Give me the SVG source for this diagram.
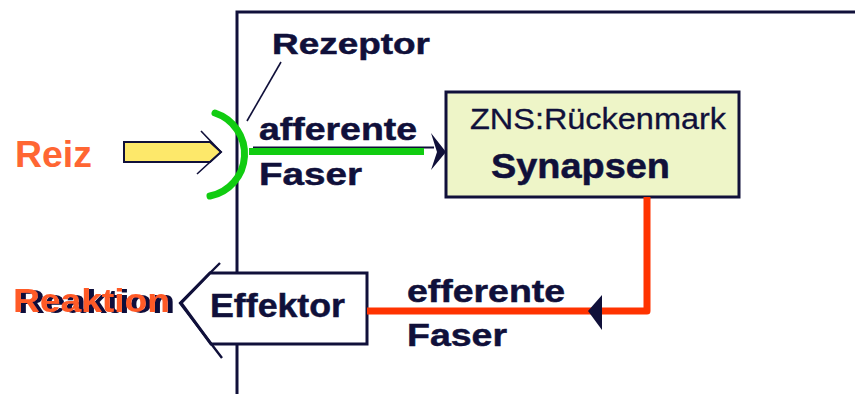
<svg xmlns="http://www.w3.org/2000/svg" width="855" height="394" viewBox="0 0 855 394">
  <style>
    .lbl { font-family: "Liberation Sans", Arial, sans-serif; font-weight: bold; fill: #10103a; stroke: #10103a; stroke-width: 0.5; }
    .org { font-family: "Liberation Sans", Arial, sans-serif; font-weight: bold; }
    .frame { fill: none; stroke: #10103a; stroke-width: 3; }
    .thin { fill: none; stroke: #10103a; stroke-width: 1.6; }
    .head { fill: #10103a; }
  </style>
  <defs>
    <!-- dark offset copy behind the orange lettering -->
    <filter id="darkShadow" x="-5%" y="-20%" width="115%" height="150%">
      <feOffset in="SourceAlpha" dx="5" dy="1" result="off"/>
      <feFlood flood-color="#10103a"/>
      <feComposite in2="off" operator="in" result="shadow"/>
      <feMerge>
        <feMergeNode in="shadow"/>
        <feMergeNode in="SourceGraphic"/>
      </feMerge>
    </filter>
  </defs>

  <!-- body boundary -->
  <g id="frame">
    <path class="frame" d="M855,12 H237 V394"/>
  </g>

  <!-- stimulus arrow -->
  <g id="reiz">
    <text class="org" x="15" y="167" font-size="37" fill="#ff6633" textLength="77" lengthAdjust="spacingAndGlyphs">Reiz</text>
    <path d="M124,142 H210 L221,152 L210,162 H124 Z" fill="#fde86a" stroke="#10103a" stroke-width="2"/>
    <polyline class="thin" points="201,131 221,152 197,174"/>
  </g>

  <!-- receptor -->
  <g id="rezeptor">
    <text class="lbl" x="272" y="54" font-size="30" textLength="158" lengthAdjust="spacingAndGlyphs">Rezeptor</text>
    <line class="thin" x1="281" y1="62" x2="247" y2="121"/>
    <path d="M215,113 A43,43 0 0,1 210,196" fill="none" stroke="#11cc11" stroke-width="7" stroke-linecap="round"/>
  </g>

  <!-- spinal cord -->
  <g id="zns">
    <rect x="446" y="92" width="293" height="105" fill="#eef5c8" stroke="#10103a" stroke-width="3"/>
    <text x="470" y="129" font-family="Liberation Sans, Arial, sans-serif" font-size="29" fill="#10103a" stroke="#10103a" stroke-width="0.3" textLength="256" lengthAdjust="spacingAndGlyphs">ZNS:Rückenmark</text>
    <text class="lbl" x="491" y="178" font-size="35" textLength="179" lengthAdjust="spacingAndGlyphs">Synapsen</text>
  </g>

  <!-- effector -->
  <g id="effektor">
    <path d="M367,273 H210 L181,303 L211,344 H367 Z" fill="#ffffff" stroke="#10103a" stroke-width="3" stroke-linejoin="miter"/>
    <polyline points="220,263 180,303 222,358" fill="none" stroke="#10103a" stroke-width="2.4"/>
    <text class="lbl" x="210" y="317" font-size="33" textLength="135" lengthAdjust="spacingAndGlyphs">Effektor</text>
  </g>

  <!-- reaction -->
  <g id="reaktion">
    <text class="org" x="13" y="312" font-size="33" fill="#ff5a28" filter="url(#darkShadow)" textLength="157" lengthAdjust="spacingAndGlyphs">Reaktion</text>
  </g>

  <!-- nerve fibres -->
  <g id="connectors">
    <line x1="253" y1="147.5" x2="434" y2="147.5" stroke="#10103a" stroke-width="2"/>
    <line x1="249" y1="151.5" x2="424" y2="151.5" stroke="#11cc11" stroke-width="7"/>
    <path class="head" d="M446,152 L431,133 L437,152 L431,170 Z"/>
    <path d="M647,197 V311 H367" fill="none" stroke="#ff3300" stroke-width="7" stroke-linejoin="round"/>
    <path class="head" d="M588,311 L602,295 L602,330 Z"/>
  </g>

  <!-- fibre labels -->
  <g id="afferent-label">
    <text class="lbl" x="259" y="140" font-size="31" textLength="158" lengthAdjust="spacingAndGlyphs">afferente</text>
    <text class="lbl" x="259" y="185" font-size="31" textLength="103" lengthAdjust="spacingAndGlyphs">Faser</text>
  </g>
  <g id="efferent-label">
    <text class="lbl" x="407" y="302" font-size="31" textLength="158" lengthAdjust="spacingAndGlyphs">efferente</text>
    <text class="lbl" x="407" y="346" font-size="32" textLength="100" lengthAdjust="spacingAndGlyphs">Faser</text>
  </g>
</svg>
